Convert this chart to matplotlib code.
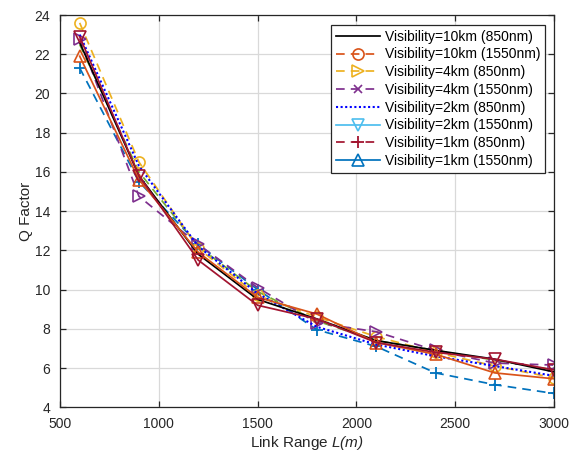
import matplotlib
matplotlib.use("Agg")
import matplotlib.pyplot as plt
from matplotlib.lines import Line2D

plt.rcParams['font.family'] = ['Liberation Sans', 'DejaVu Sans']
plt.rcParams['mathtext.fontset'] = 'custom'
plt.rcParams['mathtext.rm'] = 'Liberation Sans:italic'
plt.rcParams['mathtext.it'] = 'Liberation Sans:italic'

link_range = [600, 900, 1200, 1500, 1800, 2100, 2400, 2700, 3000]

q_black = [22.6, 15.8, 11.8, 9.5, 8.5, 7.4, 6.9, 6.45, 5.8]
q_yellow = [23.6, 16.5, 12.1, 9.7, 8.6, 7.6, 6.8, 6.1, 5.5]
q_orange = [21.9, 15.6, 11.9, 9.6, 8.75, 7.3, 6.7, 5.75, 5.45]
q_purple = [22.8, 14.75, 12.3, 10.1, 8.3, 7.85, 6.9, 6.25, 6.15]
q_dotted = [23.0, 16.3, 12.2, 9.8, 8.1, 7.2, 6.6, 6.1, 5.6]
q_maroon = [22.9, 15.8, 11.5, 9.2, 8.5, 7.3, 6.8, 6.45, 5.9]
q_dashed = [21.3, 15.5, 12.3, 10.0, 7.95, 7.1, 5.75, 5.15, 4.7]
q_green = [22.5, 16.0, 12.2, 9.9, 8.4, 7.4, 6.9, 6.4, 5.9]

legend_labels = [
    "Visibility=10km (850nm)",
    "Visibility=10km (1550nm)",
    "Visibility=4km (850nm)",
    "Visibility=4km (1550nm)",
    "Visibility=2km (850nm)",
    "Visibility=2km (1550nm)",
    "Visibility=1km (850nm)",
    "Visibility=1km (1550nm)",
]

C_BLUE = "#0072BD"
C_ORANGE = "#D95319"
C_YELLOW = "#EDB120"
C_PURPLE = "#7E2F8E"
C_GREEN = "#77AC30"
C_LBLUE = "#4DBEEE"
C_MAROON = "#A2142F"
DASH = (0, (5, 3.5))
DOT = (0, (1, 1.2))

fig = plt.figure(figsize=(5.76, 4.55), dpi=100)
ax = fig.add_axes([0.104, 0.105, 0.858, 0.862])

lw = 1.25
ms = 8
ax.plot(link_range, q_dashed, color=C_BLUE, ls=DASH, lw=lw,
        marker="+", ms=ms, mew=1.3)
ax.plot(link_range, q_green, color=C_GREEN, ls=DASH, lw=lw)
ax.plot(link_range, q_yellow, color=C_YELLOW, ls=DASH, lw=lw,
        marker="o", ms=ms, mfc="none", mew=1.2)
ax.plot(link_range, q_purple, color=C_PURPLE, ls=DASH, lw=lw,
        marker=">", ms=ms, mfc="none", mew=1.2)
ax.plot(link_range, q_dotted, color="#0000FF", ls=DOT, lw=1.5)
ax.plot(link_range, q_black, color="black", ls="-", lw=lw)
ax.plot(link_range, q_orange, color=C_ORANGE, ls="-", lw=lw,
        marker="^", ms=ms, mfc="none", mew=1.2)
ax.plot(link_range, q_maroon, color=C_MAROON, ls="-", lw=lw,
        marker="v", ms=ms, mfc="none", mew=1.2)

ax.set_xlim(500, 3000)
ax.set_ylim(4, 24)
ax.set_xticks(range(500, 3001, 500))
ax.set_yticks(range(4, 25, 2))
ax.grid(True, color="#D9D9D9", lw=0.9)
ax.set_axisbelow(True)
ax.tick_params(direction="in", length=4, width=0.9, labelsize=10,
               colors="#262626", top=True, right=True, pad=7,
               labeltop=False, labelright=False)
for sp in ax.spines.values():
    sp.set_color("#262626")
    sp.set_linewidth(0.9)

ax.set_xlabel("Link Range $L(m)$", fontsize=11, color="#262626",
              labelpad=2)
ax.set_ylabel("Q Factor", fontsize=11, color="#262626", labelpad=1)

handles = [
    Line2D([], [], color="black", ls="-", lw=lw),
    Line2D([], [], color=C_ORANGE, ls=DASH, lw=lw, marker="o",
           ms=ms, mfc="none", mew=1.2),
    Line2D([], [], color=C_YELLOW, ls=DASH, lw=lw, marker=">",
           ms=ms, mfc="none", mew=1.2),
    Line2D([], [], color=C_PURPLE, ls=DASH, lw=lw, marker="x",
           ms=ms - 2, mew=1.2),
    Line2D([], [], color="#0000FF", ls=DOT, lw=1.5),
    Line2D([], [], color=C_LBLUE, ls="-", lw=lw, marker="v", ms=ms,
           mfc="none", mew=1.2),
    Line2D([], [], color=C_MAROON, ls=DASH, lw=lw, marker="+",
           ms=ms + 1, mew=1.3),
    Line2D([], [], color=C_BLUE, ls="-", lw=lw, marker="^", ms=ms,
           mfc="none", mew=1.2),
]
leg = ax.legend(handles, legend_labels, loc="upper right", fontsize=10,
                frameon=True, fancybox=False, edgecolor="#262626",
                framealpha=1, handlelength=3.2, handletextpad=0.35,
                labelspacing=0.27, borderpad=0.35, borderaxespad=0,
                bbox_to_anchor=(0.982, 0.975))
leg.get_frame().set_linewidth(0.9)

fig.savefig("out.png", dpi=100)
